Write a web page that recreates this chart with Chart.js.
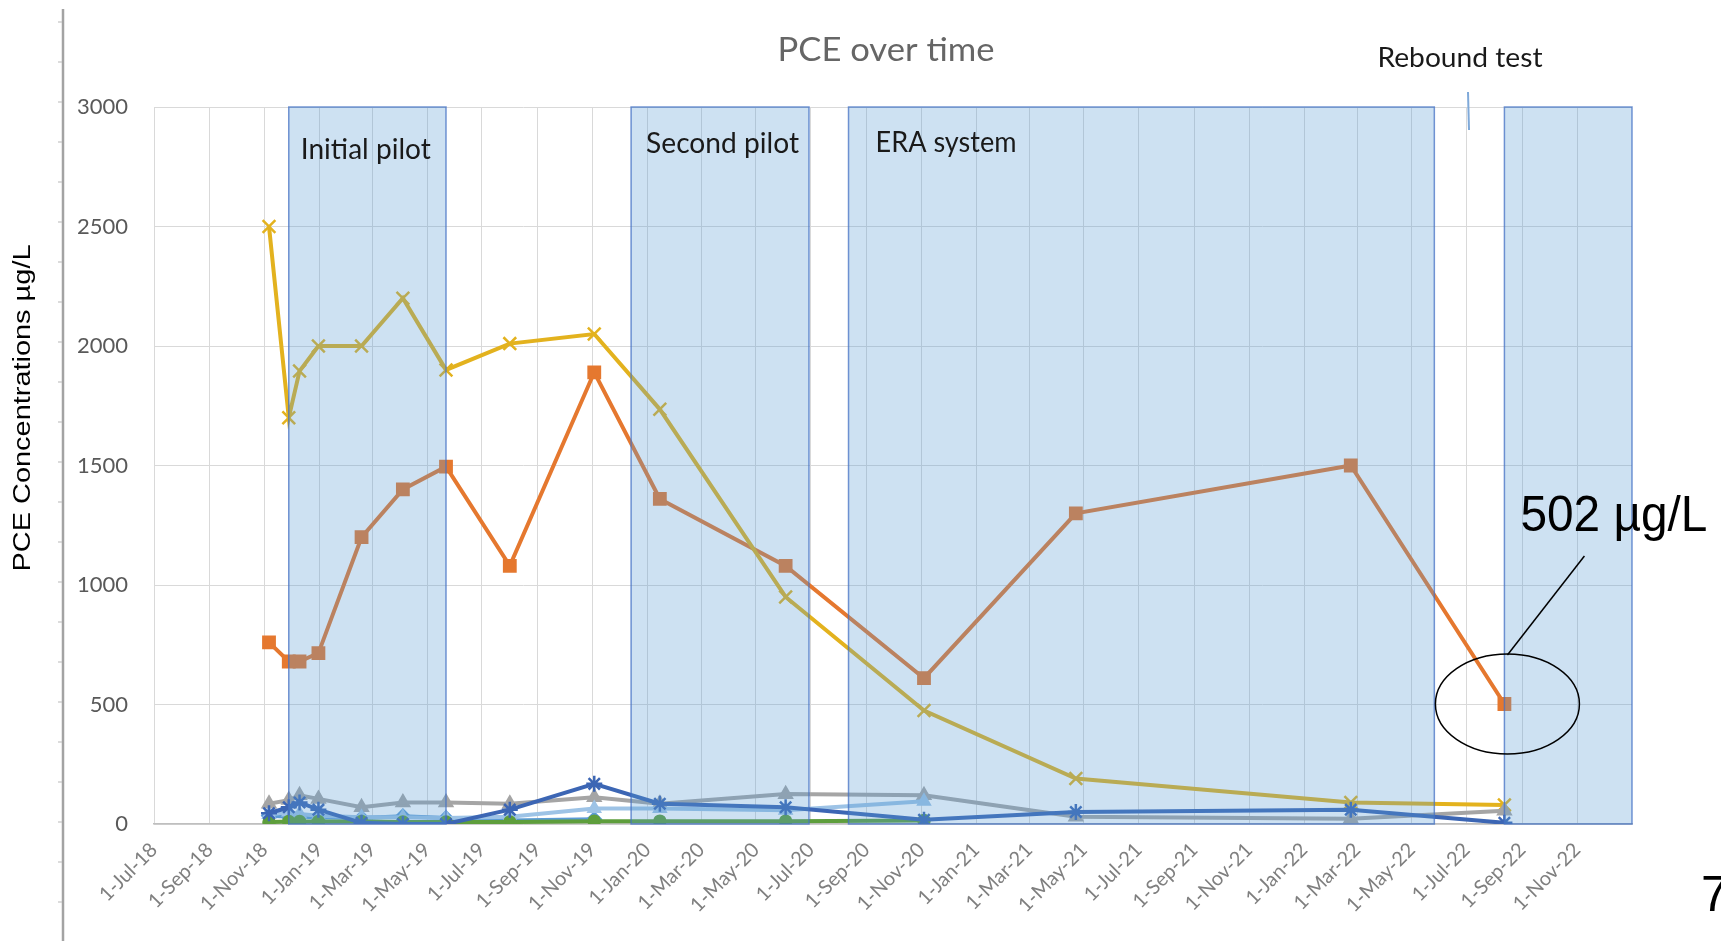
<!DOCTYPE html>
<html>
<head>
<meta charset="utf-8">
<script src="https://cdn.jsdelivr.net/npm/chart.js@4.4.0/dist/chart.umd.min.js"></script>
<style>
html, body { margin: 0; padding: 0; background: #fff; overflow: hidden; }
#wrap { width: 1721px; height: 941px; }
</style>
</head>
<body>
<div id="wrap"><canvas id="myChart" width="1721" height="941"></canvas></div>
<script>
// sampling dates and PCE concentrations (ug/L)
var sampleDates = ['2018-11-06', '2018-11-28', '2018-12-10', '2018-12-31', '2019-02-17', '2019-04-04', '2019-05-22', '2019-08-01',
    '2019-11-03', '2020-01-15', '2020-06-03', '2020-11-04', '2021-04-22', '2022-02-22', '2022-08-12'];
var pceGold = [2500, 1700, 1895, 2000, 2000, 2200, 1900, 2010, 2050, 1735, 950, 475, 190, 90, 80];
var pceOrange = [760, 680, 680, 715, 1200, 1400, 1495, 1080, 1890, 1360, 1080, 610, 1300, 1500, 502];
var pceGrey = [85, 100, 120, 105, 70, 90, 90, 85, 112, 85, 125, 120, 30, 22, 55];
var pceDarkBlue = [45, 70, 90, 60, 5, 0, 0, 60, 168, 85, 70, 18, 50, 60, 5];
var pceLightBlue = [40, 50, 42, 35, 28, 28, 25, 30, 65, 65, 58, 95];
var pceMidBlue = [35, 30, 30, 28, 25, 32, 25, 15, 20];
var pceGreen = [8, 10, 10, 10, 10, 8, 8, 8, 12, 12, 12, 15];

var tickLabels = ['1-Jul-18', '1-Sep-18', '1-Nov-18', '1-Jan-19', '1-Mar-19', '1-May-19', '1-Jul-19', '1-Sep-19', '1-Nov-19',
    '1-Jan-20', '1-Mar-20', '1-May-20', '1-Jul-20', '1-Sep-20', '1-Nov-20', '1-Jan-21', '1-Mar-21', '1-May-21', '1-Jul-21',
    '1-Sep-21', '1-Nov-21', '1-Jan-22', '1-Mar-22', '1-May-22', '1-Jul-22', '1-Sep-22', '1-Nov-22'];

// treatment periods shaded on the chart
var regionNames = ['Initial pilot', 'Second pilot', 'ERA system', ''];
var regionStart = ['2018-11-28', '2019-12-14', '2020-08-12', '2022-08-12'];
var regionEnd = ['2019-05-22', '2020-06-29', '2022-05-26', '2023-01-01'];

var MONTHS = ['Jan', 'Feb', 'Mar', 'Apr', 'May', 'Jun', 'Jul', 'Aug', 'Sep', 'Oct', 'Nov', 'Dec'];

function toDay(iso) {
    var p = iso.split('-');
    return Date.UTC(+p[0], +p[1] - 1, +p[2]) / 86400000;
}
function labelToDay(lbl) {
    var p = lbl.split('-');
    return Date.UTC(2000 + (+p[2]), MONTHS.indexOf(p[1]), +p[0]) / 86400000;
}
function pts(vals) {
    return vals.map(function (v, i) { return { x: toDay(sampleDates[i]), y: v }; });
}

// draw text squeezed/stretched to a given width
function fitText(ctx, text, x, y, font, width, color, align, rot) {
    ctx.save();
    ctx.font = font;
    var w = ctx.measureText(text).width;
    ctx.translate(x, y);
    if (rot) ctx.rotate(rot);
    ctx.scale(width / w, 1);
    ctx.textAlign = align || 'center';
    ctx.textBaseline = 'middle';
    ctx.fillStyle = color;
    ctx.fillText(text, 0, 0);
    ctx.restore();
}

var overlay = {
    id: 'overlay',
    afterDatasetsDraw: function (chart) {
        var ctx = chart.ctx, a = chart.chartArea, xs = chart.scales.x, ys = chart.scales.y;
        ctx.save();
        var labelDx = [12, 15, 27];
        var labelY = [150, 144, 143];
        var labelW = [130, 153, 141];
        regionStart.forEach(function (s, i) {
            var x0 = xs.getPixelForValue(toDay(s));
            var x1 = xs.getPixelForValue(toDay(regionEnd[i]));
            ctx.fillStyle = 'rgba(91,155,213,0.3)';
            ctx.fillRect(x0, a.top, x1 - x0, a.bottom - a.top);
            ctx.strokeStyle = 'rgba(68,114,196,0.75)';
            ctx.lineWidth = 1.5;
            ctx.strokeRect(x0, a.top, x1 - x0, a.bottom - a.top);
            if (regionNames[i]) {
                fitText(ctx, regionNames[i], x0 + labelDx[i], labelY[i], '28px Lato', labelW[i], '#1a1a1a', 'left');
            }
        });

        // callout on the last orange point
        var last = pceOrange.length - 1;
        var px = xs.getPixelForValue(toDay(sampleDates[last]));
        var py = ys.getPixelForValue(pceOrange[last]);
        ctx.strokeStyle = '#000';
        ctx.lineWidth = 1.5;
        ctx.beginPath();
        ctx.ellipse(px + 3, py, 72, 50, 0, 0, Math.PI * 2);
        ctx.stroke();
        ctx.beginPath();
        ctx.moveTo(px + 3, py - 49);
        ctx.lineTo(px + 80, py - 148);
        ctx.stroke();
        fitText(ctx, pceOrange[last] + ' \u00b5g/L', px + 16, py - 187, '50px "Liberation Sans", Arial', 187, '#000', 'left');
        ctx.restore();
    },
    afterDraw: function (chart) {
        var ctx = chart.ctx;
        ctx.save();
        // slide guide line on the left
        ctx.strokeStyle = '#a3a3a3';
        ctx.lineWidth = 2.5;
        ctx.beginPath();
        ctx.moveTo(63, 9);
        ctx.lineTo(63, 941);
        ctx.stroke();
        ctx.lineWidth = 1.2;
        ctx.strokeStyle = '#c4c4c4';
        for (var t = 22; t < 941; t += 40) {
            ctx.beginPath();
            ctx.moveTo(58, t);
            ctx.lineTo(62, t);
            ctx.stroke();
        }
        // stray mark near rebound test
        ctx.strokeStyle = '#7fa9d9';
        ctx.lineWidth = 2;
        ctx.beginPath();
        ctx.moveTo(1468, 92);
        ctx.lineTo(1469, 130);
        ctx.stroke();

        fitText(ctx, 'PCE over time', 886, 50, '33px Lato', 217, '#666666');
        fitText(ctx, 'Rebound test', 1460, 59, '26px Lato', 165, '#1a1a1a');
        fitText(ctx, 'PCE Concentrations \u00b5g/L', 24, 408, '23px "Liberation Sans", Arial', 327, '#000', 'center', -Math.PI / 2);
        ctx.font = '50px "Liberation Sans", Arial';
        ctx.fillStyle = '#000';
        ctx.textAlign = 'left';
        ctx.textBaseline = 'alphabetic';
        ctx.fillText('7', 1701, 911);
        ctx.restore();
    }
};

var ctx = document.getElementById('myChart').getContext('2d');

function series(vals, color, style, radius) {
    return {
        data: pts(vals),
        borderColor: color,
        backgroundColor: color,
        pointBackgroundColor: color,
        pointBorderColor: color,
        pointStyle: style,
        pointRadius: radius,
        pointBorderWidth: 2.5,
        borderWidth: 4,
        tension: 0,
        fill: false
    };
}

var myChart = new Chart(ctx, {
    type: 'line',
    data: {
        datasets: [
            series(pceDarkBlue, '#3c66b4', 'star', 8),
            series(pceGreen, '#5e9e3c', 'circle', 5.5),
            series(pceLightBlue, '#9dc3e6', 'triangle', 6.5),
            series(pceMidBlue, '#5b9bd5', 'rectRot', 6.5),
            series(pceGrey, '#a5a5a5', 'triangle', 7),
            series(pceGold, '#e3b21e', 'crossRot', 9),
            series(pceOrange, '#e5782f', 'rect', 8)
        ]
    },
    options: {
        responsive: false,
        animation: false,
        layout: { padding: { top: 107, right: 89, bottom: 0, left: 0 } },
        plugins: { legend: { display: false }, tooltip: { enabled: false } },
        scales: {
            x: {
                type: 'linear',
                min: toDay('2018-07-01'),
                max: toDay('2023-01-01'),
                afterBuildTicks: function (s) {
                    s.ticks = tickLabels.map(function (l) { return { value: labelToDay(l) }; });
                },
                afterFit: function (s) { s.height = 117; },
                grid: { color: '#d9d9d9', lineWidth: 1, drawTicks: false },
                border: { color: '#bfbfbf', width: 1.5 },
                ticks: {
                    autoSkip: false,
                    maxRotation: 45,
                    minRotation: 45,
                    padding: 14,
                    color: '#7f7f7f',
                    font: { family: 'Lato', size: 20 },
                    callback: function (v, i) { return tickLabels[i]; }
                }
            },
            y: {
                min: 0,
                max: 3000,
                afterFit: function (s) { s.width = 154; },
                grid: { color: '#d9d9d9', lineWidth: 1, drawTicks: false },
                border: { display: false },
                ticks: {
                    stepSize: 500,
                    padding: 26,
                    color: '#595959',
                    font: { family: 'Lato', size: 22 },
                    callback: function (v) { return String(v); }
                }
            }
        }
    },
    plugins: [overlay]
});
</script>
</body>
</html>
